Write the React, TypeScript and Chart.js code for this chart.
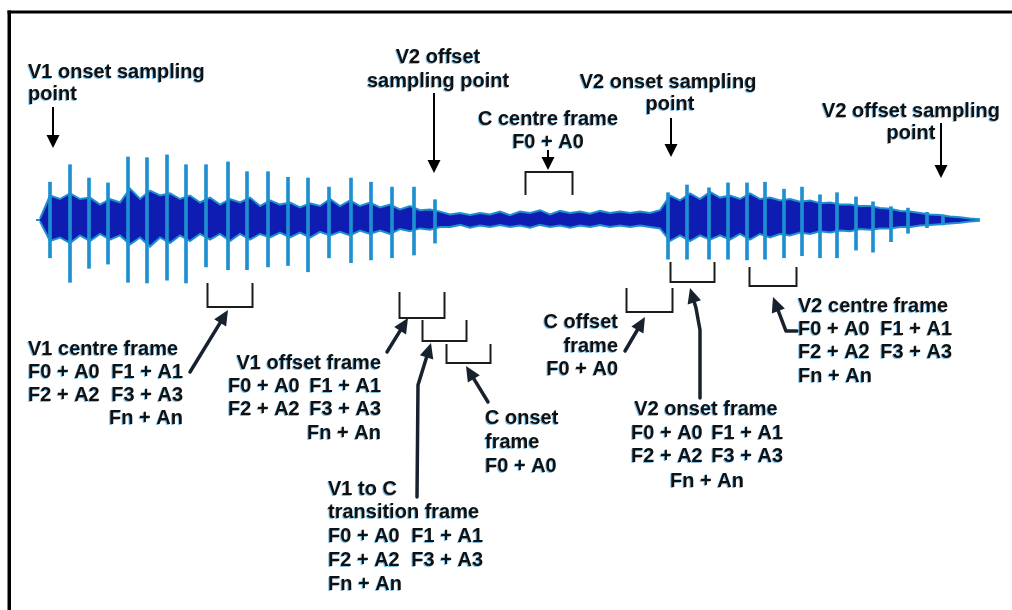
import { useEffect, useRef } from "react";
import { Chart, registerables } from "chart.js";

Chart.register(...registerables);

// ---------- waveform data (time along x, amplitude along y) ----------
const PULSE_T = [
  50, 70, 89, 108, 128, 147, 167, 186, 206, 228, 247, 268, 288, 308, 329, 351, 371, 392, 414, 435,
  668, 687, 709, 728, 747, 765, 784, 802, 820, 837, 856, 873, 891, 908, 927, 943,
];
const PULSE_TOP = [
  0.54, 0.79, 0.6, 0.53, 0.9, 0.89, 0.93, 0.79, 0.79, 0.83, 0.69, 0.69, 0.61, 0.6, 0.47, 0.6, 0.54, 0.47, 0.47, 0.29,
  0.39, 0.5, 0.46, 0.53, 0.53, 0.54, 0.44, 0.47, 0.36, 0.39, 0.33, 0.26, 0.19, 0.17, 0.11, 0.07,
];
const PULSE_BOTTOM = [
  -0.54, -0.89, -0.69, -0.63, -0.89, -0.9, -0.86, -0.9, -0.67, -0.71, -0.71, -0.67, -0.65, -0.74, -0.54, -0.61, -0.57, -0.54, -0.5, -0.33,
  -0.56, -0.56, -0.56, -0.56, -0.57, -0.56, -0.54, -0.51, -0.54, -0.54, -0.43, -0.46, -0.31, -0.19, -0.11, -0.07,
];

const BODY_T = [
  40, 50, 60, 70, 80, 90, 100, 110, 120, 130, 140, 150, 160, 170, 180, 190, 200, 210, 220, 230,
  240, 250, 260, 270, 280, 290, 300, 310, 320, 330, 340, 350, 360, 370, 380, 390, 400, 410, 420, 430,
  440, 450, 460, 470, 480, 490, 500, 510, 520, 530, 540, 550, 560, 570, 580, 590, 600, 610, 620, 630,
  640, 650, 660, 670, 680, 690, 700, 710, 720, 730, 740, 750, 760, 770, 780, 790, 800, 810, 820, 830,
  840, 850, 860, 870, 880, 890, 900, 910, 920, 930, 940, 950, 960, 970, 980,
];
const BODY_UPPER = [
  0.02, 0.35, 0.3, 0.38, 0.3, 0.32, 0.22, 0.3, 0.25, 0.45, 0.3, 0.42, 0.35, 0.38, 0.3, 0.35, 0.25, 0.32, 0.22, 0.3,
  0.25, 0.32, 0.2, 0.28, 0.22, 0.25, 0.18, 0.24, 0.2, 0.3, 0.2, 0.28, 0.2, 0.25, 0.18, 0.22, 0.15, 0.2, 0.14, 0.15,
  0.12, 0.08, 0.1, 0.07, 0.1, 0.08, 0.12, 0.07, 0.12, 0.1, 0.14, 0.08, 0.13, 0.1, 0.12, 0.09, 0.13, 0.1, 0.12, 0.1,
  0.12, 0.1, 0.14, 0.35, 0.28, 0.38, 0.3, 0.4, 0.32, 0.35, 0.3, 0.38, 0.3, 0.32, 0.28, 0.3, 0.26, 0.28, 0.24, 0.25,
  0.22, 0.22, 0.2, 0.2, 0.17, 0.16, 0.13, 0.12, 0.1, 0.08, 0.07, 0.05, 0.04, 0.02, 0.01,
];
const BODY_LOWER = [
  -0.02, -0.3, -0.25, -0.33, -0.22, -0.3, -0.2, -0.28, -0.22, -0.35, -0.25, -0.38, -0.25, -0.33, -0.22, -0.3, -0.2, -0.28, -0.2, -0.3,
  -0.2, -0.28, -0.2, -0.25, -0.18, -0.25, -0.18, -0.25, -0.17, -0.22, -0.17, -0.22, -0.15, -0.2, -0.15, -0.2, -0.13, -0.16, -0.12, -0.14,
  -0.1, -0.1, -0.07, -0.11, -0.08, -0.1, -0.07, -0.1, -0.08, -0.11, -0.07, -0.1, -0.08, -0.11, -0.08, -0.1, -0.07, -0.1, -0.08, -0.1,
  -0.08, -0.1, -0.12, -0.3, -0.22, -0.3, -0.22, -0.28, -0.22, -0.28, -0.2, -0.28, -0.2, -0.25, -0.2, -0.22, -0.18, -0.2, -0.16, -0.18,
  -0.15, -0.16, -0.13, -0.14, -0.12, -0.12, -0.1, -0.1, -0.08, -0.07, -0.06, -0.05, -0.04, -0.02, -0.01,
];
const BASELINE_T = [36, 978];

// ---------- layout (page pixels) ----------
const W = 1012;
const H = 610;
const BASE_PX = 220;
const UNIT_PX = 70;

const FONT = 'bold 20px "Liberation Sans", Arial, sans-serif';
const TEXT = "#111";
const LIGHT = "rgb(30,144,208)";
const DARK = "rgb(14,28,178)";

type Seg = [string, number, CanvasTextAlign];
type Row = { y: number; segs: Seg[] };

const LABELS: Row[][] = [
  [
    { y: 78, segs: [["V1 onset sampling", 28, "left"]] },
    { y: 100, segs: [["point", 28, "left"]] },
  ],
  [
    { y: 63, segs: [["V2 offset", 438, "center"]] },
    { y: 87, segs: [["sampling point", 438, "center"]] },
  ],
  [
    { y: 125, segs: [["C centre frame", 548, "center"]] },
    { y: 148, segs: [["F0 + A0", 548, "center"]] },
  ],
  [
    { y: 88, segs: [["V2 onset sampling", 668, "center"]] },
    { y: 110, segs: [["point", 670, "center"]] },
  ],
  [
    { y: 117, segs: [["V2 offset sampling", 911, "center"]] },
    { y: 139, segs: [["point", 911, "center"]] },
  ],
  [
    { y: 355, segs: [["V1 centre frame", 28, "left"]] },
    { y: 378, segs: [["F0 + A0", 28, "left"], ["F1 + A1", 183, "right"]] },
    { y: 401, segs: [["F2 + A2", 28, "left"], ["F3 + A3", 183, "right"]] },
    { y: 424, segs: [["Fn + An", 183, "right"]] },
  ],
  [
    { y: 369, segs: [["V1 offset frame", 381, "right"]] },
    { y: 392, segs: [["F0 + A0", 228, "left"], ["F1 + A1", 381, "right"]] },
    { y: 415, segs: [["F2 + A2", 228, "left"], ["F3 + A3", 381, "right"]] },
    { y: 439, segs: [["Fn + An", 381, "right"]] },
  ],
  [
    { y: 495, segs: [["V1 to C", 328, "left"]] },
    { y: 518, segs: [["transition frame", 328, "left"]] },
    { y: 542, segs: [["F0 + A0", 328, "left"], ["F1 + A1", 483, "right"]] },
    { y: 566, segs: [["F2 + A2", 328, "left"], ["F3 + A3", 483, "right"]] },
    { y: 590, segs: [["Fn + An", 328, "left"]] },
  ],
  [
    { y: 424, segs: [["C onset", 485, "left"]] },
    { y: 448, segs: [["frame", 485, "left"]] },
    { y: 472, segs: [["F0 + A0", 485, "left"]] },
  ],
  [
    { y: 328, segs: [["C offset", 618, "right"]] },
    { y: 352, segs: [["frame", 618, "right"]] },
    { y: 375, segs: [["F0 + A0", 618, "right"]] },
  ],
  [
    { y: 415, segs: [["V2 onset frame", 706, "center"]] },
    { y: 439, segs: [["F0 + A0", 631, "left"], ["F1 + A1", 783, "right"]] },
    { y: 462, segs: [["F2 + A2", 631, "left"], ["F3 + A3", 783, "right"]] },
    { y: 487, segs: [["Fn + An", 707, "center"]] },
  ],
  [
    { y: 312, segs: [["V2 centre frame", 798, "left"]] },
    { y: 335, segs: [["F0 + A0", 798, "left"], ["F1 + A1", 952, "right"]] },
    { y: 358, segs: [["F2 + A2", 798, "left"], ["F3 + A3", 952, "right"]] },
    { y: 382, segs: [["Fn + An", 798, "left"]] },
  ],
];

// thin arrows from labels above the waveform
const TOP_ARROWS: number[][] = [
  [53, 107, 53, 148],
  [434, 93, 434, 173],
  [548, 150, 548, 170],
  [671, 118, 671, 157],
  [941, 123, 941, 178],
];

// thick arrows from labels below the waveform (polylines)
const LOW_ARROWS: number[][][] = [
  [[190, 372], [228, 310]],
  [[387, 352], [408, 318]],
  [[417, 497], [418, 385], [431, 343]],
  [[488, 402], [466, 366]],
  [[625, 351], [645, 317]],
  [[700, 398], [700, 330], [696, 308], [690, 288]],
  [[797, 331], [786, 331], [773, 297]],
];

// frame brackets: [tStart, tEnd, yTop, yBottom, openUp?]
const BRACKETS: [number, number, number, number, boolean][] = [
  [525, 572, 172, 195, false],
  [207, 252, 283, 307, true],
  [399, 444, 292, 318, true],
  [422, 466, 320, 341, true],
  [446, 490, 344, 363, true],
  [626, 672, 288, 312, true],
  [670, 714, 262, 282, true],
  [749, 796, 267, 286, true],
];

function arrowHead(ctx: CanvasRenderingContext2D, x0: number, y0: number, x1: number, y1: number, len: number, half: number) {
  const a = Math.atan2(y1 - y0, x1 - x0);
  ctx.beginPath();
  ctx.moveTo(x1, y1);
  ctx.lineTo(x1 - len * Math.cos(a) + half * Math.sin(a), y1 - len * Math.sin(a) - half * Math.cos(a));
  ctx.lineTo(x1 - len * Math.cos(a) - half * Math.sin(a), y1 - len * Math.sin(a) + half * Math.cos(a));
  ctx.closePath();
  ctx.fill();
}

const annotations = {
  id: "annotations",
  beforeDraw(chart: Chart) {
    const ctx = chart.ctx;
    ctx.save();
    ctx.fillStyle = "#fff";
    ctx.fillRect(0, 0, W, H);
    ctx.fillStyle = "#000";
    ctx.fillRect(7.5, 10.5, W, 3);
    ctx.fillRect(7.5, 10.5, 3.5, H);
    ctx.restore();
  },
  afterDraw(chart: Chart) {
    const ctx = chart.ctx;
    const xs = chart.scales.x;
    ctx.save();
    // brackets
    ctx.strokeStyle = "#1c1c1c";
    ctx.lineWidth = 2;
    for (const [t0, t1, yt, yb, up] of BRACKETS) {
      const x0 = Math.round(xs.getPixelForValue(t0)) + 0.5;
      const x1 = Math.round(xs.getPixelForValue(t1)) + 0.5;
      ctx.beginPath();
      if (up) {
        ctx.moveTo(x0, yt);
        ctx.lineTo(x0, yb);
        ctx.lineTo(x1, yb);
        ctx.lineTo(x1, yt);
      } else {
        ctx.moveTo(x0, yb);
        ctx.lineTo(x0, yt);
        ctx.lineTo(x1, yt);
        ctx.lineTo(x1, yb);
      }
      ctx.stroke();
    }
    // top arrows
    ctx.strokeStyle = "#000";
    ctx.fillStyle = "#000";
    ctx.lineWidth = 2;
    for (const [x0, y0, x1, y1] of TOP_ARROWS) {
      ctx.beginPath();
      ctx.moveTo(x0, y0);
      ctx.lineTo(x1, y1 - 8);
      ctx.stroke();
      arrowHead(ctx, x0, y0, x1, y1, 13, 6.5);
    }
    // lower arrows
    ctx.strokeStyle = "#18222e";
    ctx.fillStyle = "#18222e";
    ctx.lineWidth = 3.5;
    ctx.lineJoin = "round";
    ctx.lineCap = "round";
    for (const pts of LOW_ARROWS) {
      const n = pts.length;
      const [px, py] = pts[n - 2];
      const [ex, ey] = pts[n - 1];
      const a = Math.atan2(ey - py, ex - px);
      ctx.beginPath();
      ctx.moveTo(pts[0][0], pts[0][1]);
      for (let i = 1; i < n - 1; i++) ctx.lineTo(pts[i][0], pts[i][1]);
      ctx.lineTo(ex - 9 * Math.cos(a), ey - 9 * Math.sin(a));
      ctx.stroke();
      arrowHead(ctx, px, py, ex, ey, 15, 7);
    }
    // labels
    ctx.font = FONT;
    ctx.textBaseline = "alphabetic";
    ctx.shadowColor = "rgba(30,140,210,0.55)";
    ctx.shadowOffsetX = -1;
    ctx.shadowOffsetY = 1;
    ctx.shadowBlur = 0;
    ctx.fillStyle = TEXT;
    for (const block of LABELS) {
      for (const row of block) {
        for (const [s, x, align] of row.segs) {
          ctx.textAlign = align;
          ctx.fillText(s, x, row.y);
        }
      }
    }
    ctx.restore();
  },
};

export default function App() {
  const ref = useRef<HTMLCanvasElement>(null);
  useEffect(() => {
    if (!ref.current) return;
    const spikes = PULSE_T.map((t, i) => ({ x: t, y: [PULSE_BOTTOM[i], PULSE_TOP[i]] }));
    const upper = BODY_T.map((t, i) => ({ x: t, y: BODY_UPPER[i] }));
    const lower = BODY_T.map((t, i) => ({ x: t, y: BODY_LOWER[i] }));
    const base = BASELINE_T.map((t) => ({ x: t, y: 0 }));
    const chart = new Chart(ref.current, {
      type: "bar",
      data: {
        datasets: [
          {
            type: "bar",
            data: spikes as any,
            backgroundColor: LIGHT,
            borderWidth: 0,
            barThickness: 3,
            grouped: false,
            order: 1,
          } as any,
          {
            type: "line",
            data: lower as any,
            borderColor: LIGHT,
            borderWidth: 2,
            pointRadius: 0,
            tension: 0,
            fill: false,
            order: 2,
          },
          {
            type: "line",
            data: upper as any,
            borderColor: LIGHT,
            borderWidth: 2,
            backgroundColor: DARK,
            pointRadius: 0,
            tension: 0,
            fill: "-1",
            order: 2,
          },
          {
            type: "line",
            data: base as any,
            borderColor: LIGHT,
            borderWidth: 2,
            pointRadius: 0,
            fill: false,
            order: 3,
          },
        ],
      },
      options: {
        animation: false,
        responsive: false,
        devicePixelRatio: 1,
        layout: { padding: 0 },
        plugins: { legend: { display: false }, tooltip: { enabled: false } },
        scales: {
          x: { type: "linear", min: 0, max: W, offset: false, display: false },
          y: { type: "linear", min: -(H - BASE_PX) / UNIT_PX, max: BASE_PX / UNIT_PX, display: false },
        },
      },
      plugins: [annotations],
    });
    return () => chart.destroy();
  }, []);
  return (
    <canvas
      ref={ref}
      width={W}
      height={H}
      style={{ position: "fixed", left: 0, top: 0, width: W, height: H }}
    />
  );
}
